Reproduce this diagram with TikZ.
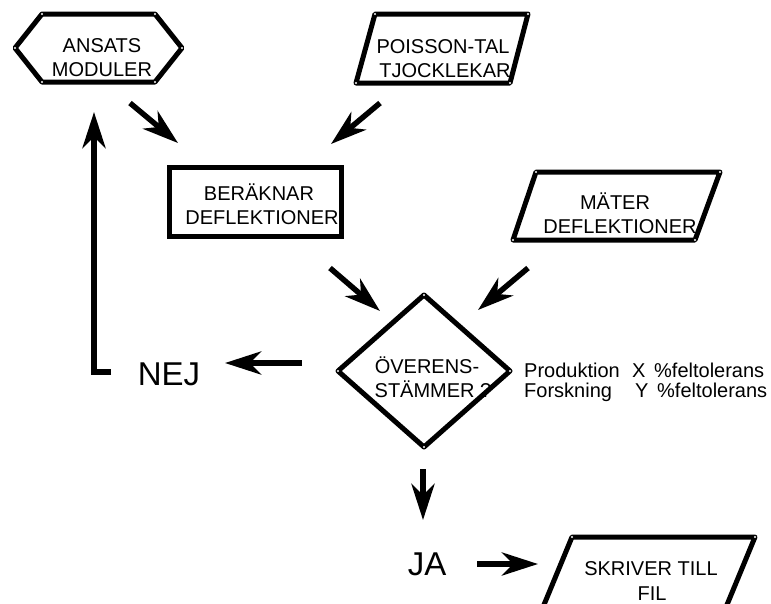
\documentclass[tikz,border=0pt]{standalone}
\usepackage{fontspec}
\setmainfont{Liberation Sans}
\usetikzlibrary{arrows.meta}
\begin{document}
\begin{tikzpicture}[x=1pt,y=-1pt,
  shp/.style={line width=5pt,line join=round},
  arr/.style={line width=5.5pt,-{Stealth[length=36pt,width=23pt,inset=11pt]}},
  lbl/.style={font=\fontsize{20}{24}\selectfont,anchor=base,inner sep=0pt},
  lblw/.style={font=\fontsize{20}{24}\selectfont,anchor=base west,inner sep=0pt},
  big/.style={font=\fontsize{33}{36}\selectfont,anchor=base,inner sep=0pt},
  vdot/.style={fill=white,draw=none}]
\clip (0,0) rectangle (771,603);
\fill[white] (0,0) rectangle (771,603);

% ANSATS MODULER (hexagon)
\draw[shp] (15,48) -- (42,14) -- (155,14) -- (182,48) -- (155,82) -- (42,82) -- cycle;
\foreach \p in {(15,48),(42,14),(155,14),(182,48),(155,82),(42,82)} \fill[vdot] \p circle (1.2);
\node[lbl] (ansats1) at (102,52) {ANSATS};
\node[lbl] (ansats2) at (102,76) {MODULER};

% POISSON-TAL TJOCKLEKAR (parallelogram)
\draw[shp] (375,14) -- (528,14) -- (510,83) -- (356,83) -- cycle;
\foreach \p in {(375,14),(528,14),(510,83),(356,83)} \fill[vdot] \p circle (1.2);
\node[lbl] (poisson1) at (443,53) {POISSON-TAL};
\node[lbl] (poisson2) at (445,77) {TJOCKLEKAR};

% BERAKNAR DEFLEKTIONER (rectangle)
\draw[line width=5pt,line join=miter] (169,167) rectangle (341,236);
\node[lbl] (berak1) at (259,200) {BERÄKNAR};
\node[lbl] (berak2) at (262,224) {DEFLEKTIONER};

% MATER DEFLEKTIONER (parallelogram)
\draw[shp] (536,172) -- (720,172) -- (695,240) -- (513,240) -- cycle;
\foreach \p in {(536,172),(720,172),(695,240),(513,240)} \fill[vdot] \p circle (1.2);
\node[lbl] (mater1) at (615,209) {MÄTER};
\node[lbl] (mater2) at (620,233) {DEFLEKTIONER};

% Decision diamond
\draw[shp] (424,295) -- (510,371) -- (424,447) -- (338,371) -- cycle;
\foreach \p in {(424,295),(510,371),(424,447),(338,371)} \fill[vdot] \p circle (1.2);
\node[lbl] (over1) at (427,373) {ÖVERENS-};
\node[lbl] (over2) at (433,397) {STÄMMER ?};

% tolerance text
\node[lblw] (tol1) at (524,377) {\makebox[108pt][l]{Produktion}\makebox[22pt][l]{X}\%feltolerans};
\node[lblw] (tol2) at (524,397) {\makebox[111pt][l]{Forskning}\makebox[22pt][l]{Y}\%feltolerans};

% NEJ / JA
\node[big] (nej) at (169,385) {NEJ};
\node[big] (ja) at (427,575) {JA};

% SKRIVER TILL FIL (parallelogram, cut by the page edge)
\draw[shp] (541,612) -- (572,537) -- (755,537) -- (724,612);
\foreach \p in {(572,537),(755,537)} \fill[vdot] \p circle (1.2);
\node[lbl] (skriv1) at (651,575) {SKRIVER TILL};
\node[lbl] (skriv2) at (652,600) {FIL};

% arrow end points
\coordinate (a1s) at (130,103); \coordinate (a1e) at (178,143);
\coordinate (a2s) at (380,103); \coordinate (a2e) at (331,144);
\coordinate (a3s) at (330,268); \coordinate (a3e) at (380,311);
\coordinate (a4s) at (528,268); \coordinate (a4e) at (478,310);
\coordinate (a5s) at (423,469); \coordinate (a5e) at (423,520);
\coordinate (a6s) at (302,363); \coordinate (a6e) at (225,363);
\coordinate (a7s) at (477,564); \coordinate (a7e) at (538,564);
\coordinate (fbs) at (111,372); \coordinate (fbc) at (94,372); \coordinate (fbe) at (94,112);

\draw[arr] (a1s) -- (a1e);
\draw[arr] (a2s) -- (a2e);
\draw[arr] (a3s) -- (a3e);
\draw[arr] (a4s) -- (a4e);
\draw[arr] (a5s) -- (a5e);
\draw[arr] (a6s) -- (a6e);
\draw[arr] (a7s) -- (a7e);
\draw[arr,line width=6pt] (fbs) -- (fbc) -- (fbe);
\end{tikzpicture}
\end{document}
